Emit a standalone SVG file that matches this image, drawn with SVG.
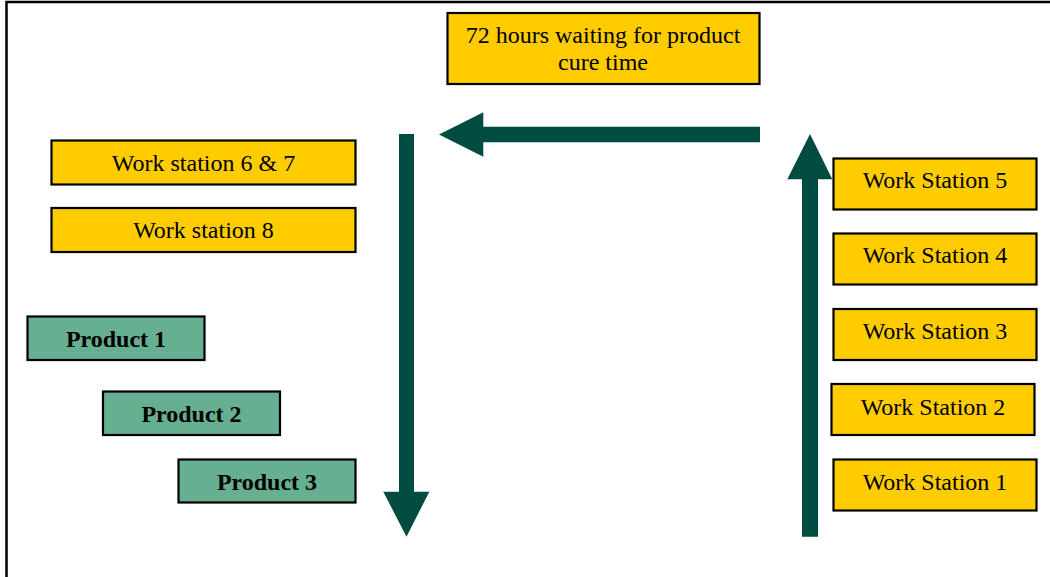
<svg xmlns="http://www.w3.org/2000/svg" width="1050" height="577" viewBox="0 0 1050 577">
<style>
.ws{fill:#FFCC00;stroke:#000;stroke-width:2.2}
.pr{fill:#66AF91;stroke:#000;stroke-width:2.2}
.t{font-family:"Liberation Serif","Times New Roman",serif;font-size:24px;fill:#000;text-anchor:middle}
.b{font-weight:bold}
.arr{fill:#004C40}
</style>
<rect width="1050" height="577" fill="#fff"/>
<g id="frame">
<path d="M6.5,577 V2 H1050" fill="none" stroke="#000" stroke-width="2.5"/>
</g>
<g id="connectors">
<path class="arr" d="M760,126.7 V142.3 H483.3 V156.7 L439,134.5 L483.3,112.3 V126.7 Z"/>
<path class="arr" d="M399,134 H414 V491.7 H429.3 L406.5,536.7 L383.3,491.7 H399 Z"/>
<path class="arr" d="M802,536.7 H818 V179.3 H832.3 L810,134 L787.3,179.3 H802 Z"/>
</g>
<g id="cure">
<rect class="ws" x="447.5" y="13" width="312" height="71"/>
<text class="t" x="603" y="43.3">72 hours waiting for product</text>
<text class="t" x="603" y="69.5">cure time</text>
</g>
<g id="ws67"><rect class="ws" x="51.5" y="140.5" width="304" height="44"/><text class="t" x="203.5" y="171">Work station 6 &amp; 7</text></g>
<g id="ws8"><rect class="ws" x="51.5" y="208" width="304" height="44"/><text class="t" x="203.5" y="237.7">Work station 8</text></g>
<g id="p1"><rect class="pr" x="27.5" y="316.5" width="177" height="43.5"/><text class="t b" x="116" y="346.7">Product 1</text></g>
<g id="p2"><rect class="pr" x="103" y="391.5" width="177" height="43.5"/><text class="t b" x="191.5" y="421.7">Product 2</text></g>
<g id="p3"><rect class="pr" x="178.5" y="459.5" width="177" height="43"/><text class="t b" x="267" y="490">Product 3</text></g>
<g id="ws5"><rect class="ws" x="833.5" y="158.5" width="203" height="51"/><text class="t" x="935" y="188.3">Work Station 5</text></g>
<g id="ws4"><rect class="ws" x="833.5" y="233.5" width="203" height="51"/><text class="t" x="935" y="263.3">Work Station 4</text></g>
<g id="ws3"><rect class="ws" x="833.5" y="309" width="203" height="51"/><text class="t" x="935" y="339">Work Station 3</text></g>
<g id="ws2"><rect class="ws" x="831.5" y="384" width="203" height="51"/><text class="t" x="933" y="415">Work Station 2</text></g>
<g id="ws1"><rect class="ws" x="833.5" y="459.5" width="203" height="51"/><text class="t" x="935" y="490">Work Station 1</text></g>
</svg>
